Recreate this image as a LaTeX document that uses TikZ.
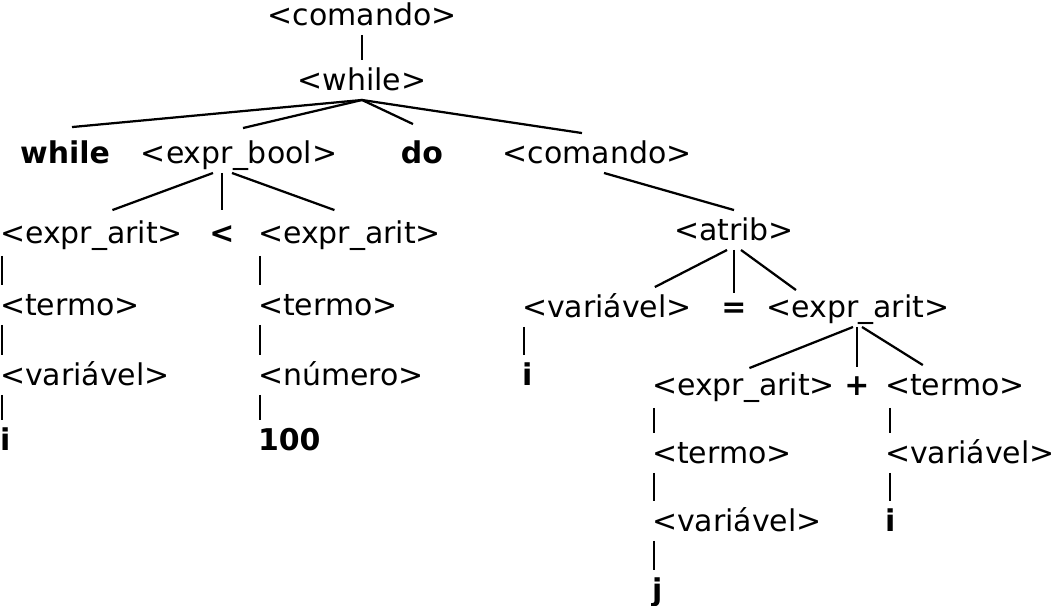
\documentclass[tikz,border=0pt]{standalone}
\usepackage{fontspec}
\setmainfont{DejaVu Sans}
\usetikzlibrary{calc}

\begin{document}
\begin{tikzpicture}[x=0.025cm,y=-0.025cm,
	every node/.style={font=\fontsize{21.3pt}{25pt}\selectfont,inner sep=0pt,outer sep=0pt,text height=21.3pt,text depth=7.1pt},
	lc/.style={anchor=base},
	lw/.style={anchor=base west},
	kw/.style={font=\fontsize{21.3pt}{25pt}\selectfont\bfseries}]
	\useasboundingbox (0,0) rectangle (1055,606);
	%Raiz
	\node[lc] (cmd0) at (362,25) {<comando>};
	\node[lc] (whl) at (362,90) {<while>};
	\node[lc,kw] (kwhile) at (65,163) {while};
	\node[lc] (ebool) at (239,163) {<expr\_bool>};
	\node[lc,kw] (kdo) at (422,163) {do};
	\node[lc] (cmd1) at (597,163) {<comando>};
	%Condicao
	\node[lw] (ea1) at (0,243) {<expr\_arit>};
	\node[lc,kw] (lt) at (222,243) {<};
	\node[lw] (ea2) at (258,243) {<expr\_arit>};
	\node[lw] (te1) at (0,315) {<termo>};
	\node[lw] (te2) at (258,315) {<termo>};
	\node[lw] (va2) at (0,385) {<variável>};
	\node[lw] (nu) at (258,385) {<número>};
	\node[lw,kw] (i2) at (0,450) {i};
	\node[lw,kw] (n100) at (258,450) {100};
	%Atribuicao
	\node[lc] (atr) at (734,240) {<atrib>};
	\node[lw] (va1) at (522,317) {<variável>};
	\node[lc,kw] (eq) at (734,317) {=};
	\node[lc] (ea3) at (858,317) {<expr\_arit>};
	\node[lw,kw] (i1) at (522,385) {i};
	\node[lw] (ea4) at (652,395) {<expr\_arit>};
	\node[lc,kw] (pl) at (857,395) {+};
	\node[lw] (te3) at (885,395) {<termo>};
	\node[lw] (te4) at (652,463) {<termo>};
	\node[lw] (va3) at (885,463) {<variável>};
	\node[lw] (va4) at (652,531) {<variável>};
	\node[lw,kw] (i3) at (885,531) {i};
	\node[lw,kw] (j) at (652,600) {j};
	
	\begin{scope}[line width=1.6pt]
	%Ramos
	\draw (cmd0.south) -- (whl.north);
	\draw (whl.south) -- ($(kwhile.north)+(7,-6)$);
	\draw (whl.south) -- ($(ebool.north)+(4,-5)$);
	\draw (whl.south) -- ($(kdo.north)+(-9,-9)$);
	\draw (whl.south) -- ($(cmd1.north)+(-15,0)$);
	\draw ($(ebool.south)+(-26,0)$) -- ($(ea1.north)+(21,-3)$);
	\draw ($(ebool.south)+(-17,0)$) -- ($(lt.north)+(0,-3)$);
	\draw ($(ebool.south)+(-7,0)$) -- ($(ea2.north)+(-15,-3)$);
	\draw ($(cmd1.south)+(7,0)$) -- (atr.north);
	\draw ($(atr.south)+(-7,0)$) -- ($(va1.north)+(48,0)$);
	\draw (atr.south) -- ($(eq.north)+(0,6)$);
	\draw ($(atr.south)+(7,0)$) -- ($(ea3.north)+(-62,3)$);
	\draw ($(ea3.south)+(-5,0)$) -- ($(ea4.north)+(6,3)$);
	\draw ($(ea3.south)+(-1,0)$) -- ($(pl.north)+(0,2)$);
	\draw ($(ea3.south)+(4,0)$) -- ($(te3.north)+(-32,0)$);
	%Hastes
	\draw ($(ea1.south west)+(2,3)$) -- ($(te1.north west)+(2,0)$);
	\draw ($(te1.south west)+(2,0)$) -- ($(va2.north west)+(2,0)$);
	\draw ($(va2.south west)+(2,0)$) -- ($(i2.north west)+(2,0)$);
	\draw ($(ea2.south west)+(2,3)$) -- ($(te2.north west)+(2,0)$);
	\draw ($(te2.south west)+(2,0)$) -- ($(nu.north west)+(2,0)$);
	\draw ($(nu.south west)+(2,0)$) -- ($(n100.north west)+(2,0)$);
	\draw ($(va1.south west)+(2,0)$) -- ($(i1.north west)+(2,0)$);
	\draw ($(ea4.south west)+(2,3)$) -- ($(te4.north west)+(2,0)$);
	\draw ($(te4.south west)+(2,0)$) -- ($(va4.north west)+(2,0)$);
	\draw ($(va4.south west)+(2,0)$) -- ($(j.north west)+(2,0)$);
	\draw ($(te3.south west)+(5,3)$) -- ($(va3.north west)+(5,0)$);
	\draw ($(va3.south west)+(5,0)$) -- ($(i3.north west)+(5,0)$);
	\end{scope}
\end{tikzpicture}
\end{document}
